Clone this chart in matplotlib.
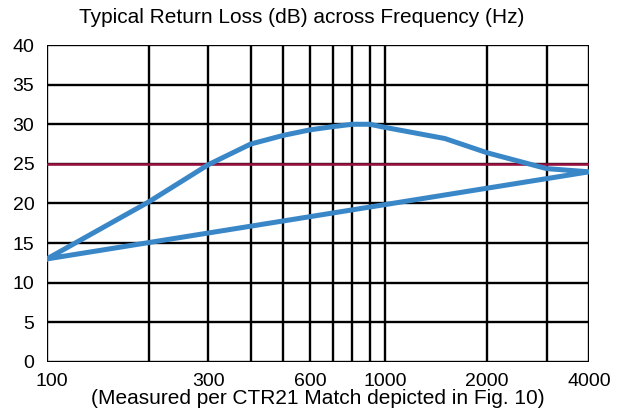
import matplotlib.pyplot as plt
import numpy as np

plt.rcParams['font.family'] = ['Liberation Sans', 'DejaVu Sans']

# upper branch of the return loss loop, then the straight return branch
freq_upper = [100, 200, 300, 400, 500, 600, 700, 800, 900, 1000, 1500, 2000, 3000, 4000]
loss_upper = [13, 20.2, 24.9, 27.5, 28.6, 29.3, 29.7, 30, 30, 29.6, 28.2, 26.4, 24.4, 24]
freq_lower = [4000, 100]
loss_lower = [24, 13]

limit_db = 25
grid_freqs = [100, 200, 300, 400, 500, 600, 700, 800, 900, 1000, 2000, 3000, 4000]
tick_freqs = [100, 300, 600, 1000, 2000, 4000]
y_ticks = [0, 5, 10, 15, 20, 25, 30, 35, 40]

fig = plt.figure(figsize=(6.24, 4.17), dpi=100)
ax = fig.add_axes([0.075, 0.132, 0.869, 0.76])

ax.set_xscale('log')
ax.set_xlim(100, 4000)
ax.set_ylim(0, 40)

for f in grid_freqs:
    ax.axvline(f, color='black', lw=1.7, zorder=1)
for y in y_ticks:
    ax.axhline(y, color='black', lw=1.7, zorder=1)

ax.axhline(limit_db, color='#9b1040', lw=1.8, zorder=2)

x = freq_upper + freq_lower
y = loss_upper + loss_lower
ax.plot(x, y, color='#3a87c8', lw=3.6, solid_joinstyle='miter', zorder=3)

ax.set_xticks(tick_freqs)
ax.set_xticklabels([str(t) for t in tick_freqs])
ax.xaxis.set_minor_locator(plt.NullLocator())
ax.set_yticks(y_ticks)
ax.tick_params(axis='x', length=0, labelsize=14, pad=8)
ax.tick_params(axis='y', length=0, labelsize=14, pad=9)
for s in ax.spines.values():
    s.set_visible(False)

# first x label sits a little right of the axis, clear of the "0"
from matplotlib.transforms import ScaledTranslation
lab0 = ax.get_xticklabels()[0]
lab0.set_transform(lab0.get_transform() + ScaledTranslation(5 / 100, 0, fig.dpi_scale_trans))

ax.set_xlabel('(Measured per CTR21 Match depicted in Fig. 10)', fontsize=15, labelpad=-1)
fig.text(0.484, 0.957, 'Typical Return Loss (dB) across Frequency (Hz)',
         ha='center', va='center', fontsize=15)

fig.savefig('out.png', dpi=100)
